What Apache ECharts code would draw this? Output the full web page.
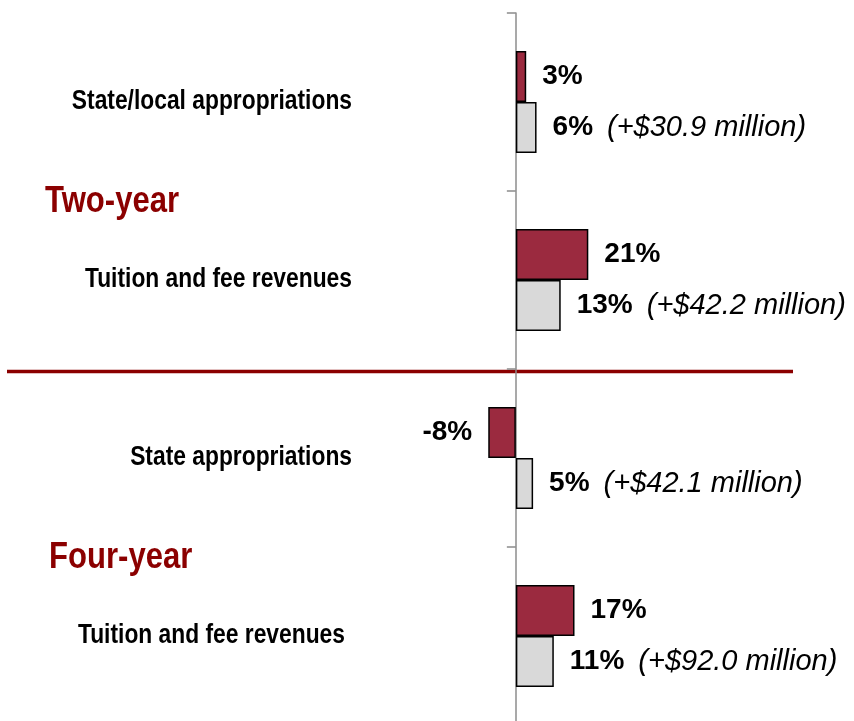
<!DOCTYPE html>
<html>
<head>
<meta charset="utf-8">
<script src="https://cdn.jsdelivr.net/npm/echarts@6/dist/echarts.min.js"></script>
<style>
  html, body { margin: 0; padding: 0; background: #fff; }
  #main { width: 854px; height: 721px; }
</style>
</head>
<body>
<div id="main"></div>
<script>
// rows top to bottom
const categories = ['State/local appropriations', 'Tuition and fee revenues', 'State appropriations', 'Tuition and fee revenues'];
const groupNames = ['Two-year', 'Four-year'];
const redValues = [3, 21, -8, 17];
const greyValues = [6, 13, 5, 11];
const dollarNotes = ['+$30.9 million', '+$42.2 million', '+$42.1 million', '+$92.0 million'];

const sans = '"Liberation Sans", Arial, Helvetica, sans-serif';
const darkRed = '#8b0000';

const chart = echarts.init(document.getElementById('main'));

const option = {
  animation: false,
  backgroundColor: '#fff',
  // last band runs a little past the bottom edge, like the original
  grid: { left: 0, right: 0, top: 13, height: 712, outerBoundsMode: 'none' },
  xAxis: {
    type: 'value', min: -149.5, max: 98, show: false, splitLine: { show: false }
  },
  yAxis: {
    type: 'category',
    inverse: true,
    data: categories,
    axisLine: { onZero: true, lineStyle: { color: '#8c8c8c', width: 1.5 } },
    axisTick: { show: true, length: 9, lineStyle: { color: '#8c8c8c', width: 1.5 } },
    axisLabel: { show: false }
  },
  series: [
    {
      type: 'bar',
      barWidth: 51,
      barGap: '0%',
      data: redValues.map(v => ({ value: v, label: { position: v < 0 ? 'left' : 'right' } })),
      itemStyle: { color: '#9b2a3f', borderColor: '#000', borderWidth: 1.5 },
      label: {
        show: true, distance: 16, formatter: p => p.value + '%',
        color: '#000', fontFamily: sans, fontWeight: 'bold', fontSize: 28
      }
    },
    {
      type: 'bar',
      barWidth: 51,
      data: greyValues,
      itemStyle: { color: '#d9d9d9', borderColor: '#000', borderWidth: 1.5 },
      label: {
        show: true, position: 'right', distance: 16,
        formatter: p => '{v|' + p.value + '%}{n|(' + dollarNotes[p.dataIndex] + ')}',
        rich: {
          v: { color: '#000', fontFamily: sans, fontWeight: 'bold', fontSize: 28 },
          n: { color: '#000', fontFamily: sans, fontStyle: 'italic', fontSize: 29, padding: [0, 0, 0, 14] }
        }
      }
    }
  ]
};
chart.setOption(option);

// category names, group titles and separator are placed from the category axis
const yc = i => chart.convertToPixel({ yAxisIndex: 0 }, i);
const between = (a, b) => (yc(a) + yc(b)) / 2;
const labelRight = [352, 352, 352, 345];

const graphics = categories.map((c, i) => ({
  type: 'text', x: labelRight[i], y: yc(i), scaleX: 0.845, silent: true,
  style: { text: c, fill: '#000', fontFamily: sans, fontWeight: 'bold', fontSize: 27, align: 'right', verticalAlign: 'middle' }
}));
graphics.push(
  {
    type: 'line', silent: true,
    shape: { x1: 7, y1: between(1, 2) + 2.5, x2: 793, y2: between(1, 2) + 2.5 },
    style: { stroke: darkRed, lineWidth: 3.5 }
  },
  {
    type: 'text', x: 45, y: between(0, 1) + 11, scaleX: 0.84, silent: true,
    style: { text: groupNames[0], fill: darkRed, fontFamily: sans, fontWeight: 'bold', fontSize: 37, verticalAlign: 'middle' }
  },
  {
    type: 'text', x: 49, y: between(2, 3) + 11, scaleX: 0.84, silent: true,
    style: { text: groupNames[1], fill: darkRed, fontFamily: sans, fontWeight: 'bold', fontSize: 37, verticalAlign: 'middle' }
  }
);
chart.setOption({ graphic: graphics });
</script>
</body>
</html>
